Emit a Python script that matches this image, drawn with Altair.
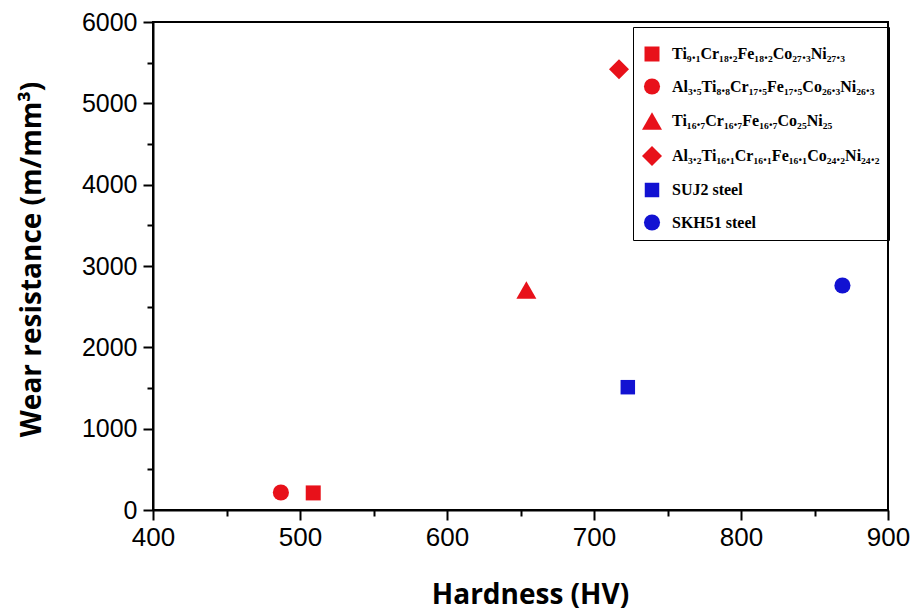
import altair as alt
import pandas as pd

series = [
    "Ti₉.₁Cr₁₈.₂Fe₁₈.₂Co₂₇.₃Ni₂₇.₃",
    "Al₃.₅Ti₈.₈Cr₁₇.₅Fe₁₇.₅Co₂₆.₃Ni₂₆.₃",
    "Ti₁₆.₇Cr₁₆.₇Fe₁₆.₇Co₂₅Ni₂₅",
    "Al₃.₂Ti₁₆.₁Cr₁₆.₁Fe₁₆.₁Co₂₄.₂Ni₂₄.₂",
    "SUJ2 steel",
    "SKH51 steel",
]
hardness = [509, 487, 654, 717, 723, 869]
wear = [210, 215, 2705, 5420, 1510, 2760]
colors = ["#e8111a", "#e8111a", "#e8111a", "#e8111a", "#1212d2", "#1212d2"]
shapes = ["square", "circle", "triangle-up", "diamond", "square", "circle"]
sizes = [225, 260, 400, 400, 210, 260]

df = pd.DataFrame({"series": series, "hardness": hardness, "wear": wear})

legend = alt.Legend(
    title=" ",
    titleFontSize=6,
    titlePadding=4,
    orient="none",
    legendX=480,
    legendY=5,
    strokeColor="black",
    padding=9,
    rowPadding=16,
    labelFont="Liberation Serif",
    labelFontWeight="bold",
    labelFontSize=16,
    labelColor="black",
    labelOffset=10,
    labelLimit=400,
    symbolStrokeWidth=0,
    symbolOpacity=1,
)

x_axis = alt.Axis(
    values=list(range(400, 901, 50)),
    labelExpr="datum.value % 100 === 0 ? datum.label : ''",
    format="d",
    tickSize={"condition": {"test": "datum.value % 100 === 0", "value": 10}, "value": 6},
    tickColor="black",
    tickWidth=2,
    domainColor="black",
    domainWidth=2,
    grid=False,
    labelFont="Liberation Sans",
    labelFontSize=26,
    labelColor="black",
    labelPadding=4,
    labelFlush=False,
    title="Hardness (HV)",
    titleFont="Open Sans",
    titleFontWeight="bold",
    titleFontSize=28,
    titleColor="black",
    titleX=377,
    titleY=93,
    titleAlign="center",
    titleBaseline="alphabetic",
)

y_axis = alt.Axis(
    values=list(range(0, 6001, 500)),
    labelExpr="datum.value % 1000 === 0 ? datum.label : ''",
    format="d",
    tickSize={"condition": {"test": "datum.value % 1000 === 0", "value": 10}, "value": 6},
    tickColor="black",
    tickWidth=2,
    domainColor="black",
    domainWidth=2,
    grid=False,
    labelFont="Liberation Sans",
    labelFontSize=25,
    labelColor="black",
    labelPadding=6,
    labelFlush=False,
    title="Wear resistance (m/mm³)",
    titleFont="Open Sans",
    titleFontWeight="bold",
    titleFontSize=28,
    titleColor="black",
    titleX=-113,
    titleY=237,
    titleAngle=270,
    titleAlign="center",
    titleBaseline="alphabetic",
)

chart = (
    alt.Chart(df)
    .mark_point(filled=True, opacity=1, strokeWidth=0)
    .encode(
        x=alt.X("hardness:Q", scale=alt.Scale(domain=[400, 900], nice=False, zero=False), axis=x_axis),
        y=alt.Y("wear:Q", scale=alt.Scale(domain=[0, 6000], nice=False), axis=y_axis),
        color=alt.Color("series:N", scale=alt.Scale(domain=series, range=colors), legend=legend, sort=series),
        shape=alt.Shape("series:N", scale=alt.Scale(domain=series, range=shapes), legend=legend, sort=series),
        size=alt.Size("series:N", scale=alt.Scale(type="ordinal", domain=series, range=sizes), legend=legend, sort=series),
    )
    .properties(
        width=735,
        height=488,
        padding={"left": 153, "top": 22, "right": 25, "bottom": 101},
        autosize="none",
        background="white",
    )
    .configure_view(stroke="black", strokeWidth=2)
)

chart.save("out.html", embed_options={"renderer": "svg", "actions": False})
